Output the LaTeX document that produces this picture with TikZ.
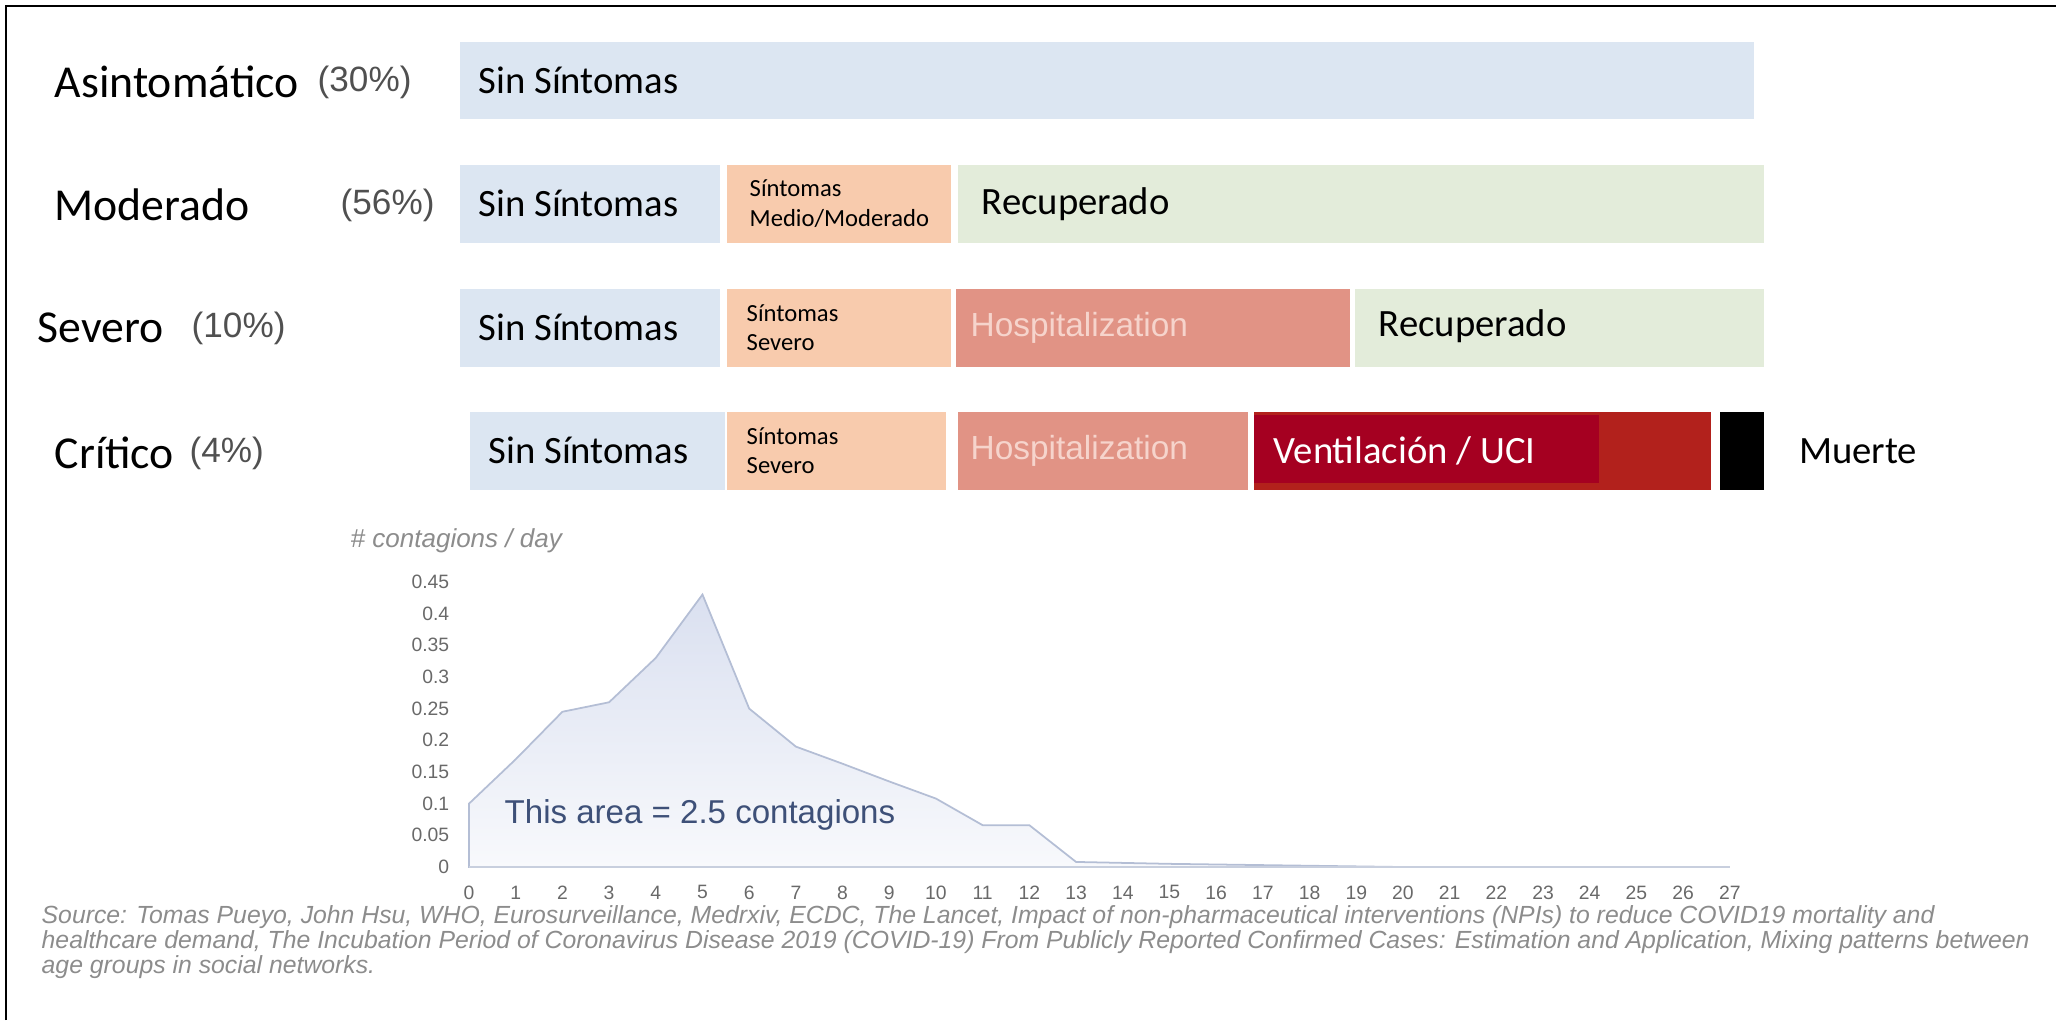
\documentclass[tikz,border=0pt]{standalone}
\usepackage{fontspec}
\setmainfont{Carlito}
\newfontfamily\helv{Liberation Sans}
\usepackage{tikz}
\usetikzlibrary{positioning}

\definecolor{sinBlue}{RGB}{220,230,242}
\definecolor{symOrange}{RGB}{248,203,173}
\definecolor{recGreen}{RGB}{227,236,218}
\definecolor{hospRed}{RGB}{225,147,133}
\definecolor{hospText}{RGB}{246,212,204}
\definecolor{ventDark}{RGB}{165,0,33}
\definecolor{ventRed}{RGB}{178,33,28}
\definecolor{pctGrey}{RGB}{80,80,80}
\definecolor{tickGrey}{RGB}{105,105,105}
\definecolor{srcGrey}{RGB}{140,140,140}
\definecolor{areaTop}{RGB}{218,224,240}
\definecolor{areaBot}{RGB}{248,249,252}
\definecolor{areaLine}{RGB}{180,190,213}
\definecolor{axisLine}{RGB}{200,207,222}
\definecolor{areaText}{RGB}{62,80,120}

\begin{document}
\begin{tikzpicture}[x=0.01cm,y=-0.01cm,
    bar/.style={rectangle,inner sep=0pt,anchor=north west,minimum height=0.78cm},
    txt/.style={inner sep=0pt,font=\fontsize{11}{13}\selectfont},
    small/.style={inner sep=0pt,align=left,font=\fontsize{7}{8.4}\selectfont},
    rowlbl/.style={inner sep=0pt,anchor=west,font=\fontsize{13}{15}\selectfont},
    pct/.style={inner sep=0pt,anchor=west,text=pctGrey,font=\helv\fontsize{10}{12}\selectfont},
    hosp/.style={inner sep=0pt,text=hospText,font=\helv\fontsize{9.5}{11}\selectfont},
    tick/.style={inner sep=0pt,text=tickGrey,font=\helv\fontsize{5.5}{6.6}\selectfont},
    src/.style={inner sep=0pt,anchor=base west,text=srcGrey,font=\helv\itshape\fontsize{7.05}{8}\selectfont}]

  \useasboundingbox (0,0) rectangle (2056,1020);
  \draw [line width=0.6pt] (6,1020) -- (6,6) -- (2056,6);

  % row labels
  \node [rowlbl] (Asin_lbl) at (54,82)  {Asintomático};
  \node [pct]    (Asin_pct) at (317,82) {(30\%)};
  \node [rowlbl] (Mod_lbl)  at (54,205) {Moderado};
  \node [pct]    (Mod_pct)  at (340,205) {(56\%)};
  \node [rowlbl] (Sev_lbl)  at (37,328) {Severo};
  \node [pct]    (Sev_pct)  at (191,328) {(10\%)};
  \node [rowlbl] (Crit_lbl) at (54,453) {Crítico};
  \node [pct]    (Crit_pct) at (189,453) {(4\%)};

  % asintomatico
  \node [bar,fill=sinBlue,minimum width=12.94cm,minimum height=0.77cm] (Asin_sin) at (459,41) {};
  \node [txt,right=0.19cm of Asin_sin.west] {Sin Síntomas};

  % moderado
  \node [bar,fill=sinBlue,minimum width=2.60cm]   (Mod_sin) at (459,164) {};
  \node [bar,fill=symOrange,minimum width=2.24cm] (Mod_sym) at (726,164) {};
  \node [bar,fill=recGreen,minimum width=8.06cm]  (Mod_rec) at (957,164) {};
  \node [txt,right=0.19cm of Mod_sin.west] {Sin Síntomas};
  \node [small,right=0.23cm of Mod_sym.west] {Síntomas\\Medio/Moderado};
  \node [txt,right=0.24cm of Mod_rec.west] {Recuperado};

  % severo
  \node [bar,fill=sinBlue,minimum width=2.60cm]   (Sev_sin)  at (459,288) {};
  \node [bar,fill=symOrange,minimum width=2.24cm] (Sev_sym)  at (726,288) {};
  \node [bar,fill=hospRed,minimum width=3.94cm]   (Sev_hosp) at (955,288) {};
  \node [bar,fill=recGreen,minimum width=4.09cm]  (Sev_rec)  at (1354,288) {};
  \node [txt,right=0.19cm of Sev_sin.west] {Sin Síntomas};
  \node [small,right=0.20cm of Sev_sym.west] {Síntomas\\Severo};
  \node [hosp,right=0.15cm of Sev_hosp.west] {Hospitalization};
  \node [txt,right=0.24cm of Sev_rec.west,yshift=0.02cm] {Recuperado};

  % critico
  \node [bar,fill=sinBlue,minimum width=2.55cm]   (Crit_sin)   at (469,411) {};
  \node [bar,fill=symOrange,minimum width=2.19cm] (Crit_sym)   at (726,411) {};
  \node [bar,fill=hospRed,minimum width=2.90cm]   (Crit_hosp)  at (957,411) {};
  \node [bar,fill=ventRed,minimum width=4.57cm]   (Crit_vent)  at (1253,411) {};
  \node [bar,fill=ventDark,minimum width=3.45cm,minimum height=0.68cm] (Crit_uci) at (1253,414) {};
  \node [bar,fill=black,minimum width=0.44cm]     (Crit_death) at (1719,411) {};
  \node [txt,right=0.19cm of Crit_sin.west] {Sin Síntomas};
  \node [small,right=0.20cm of Crit_sym.west] {Síntomas\\Severo};
  \node [hosp,right=0.13cm of Crit_hosp.west] {Hospitalization};
  \node [txt,text=white,right=0.20cm of Crit_vent.west] {Ventilación / UCI};
  \node [txt,right=0.34cm of Crit_death.east] {Muerte};

  % contagion curve
  \node [inner sep=0pt,anchor=west,text=srcGrey,font=\helv\itshape\fontsize{7.4}{8.5}\selectfont] (Chart_ylbl) at (350,541) {\# contagions / day};
  \begin{scope}[shift={(469,867)},x=0.4667cm,y=6.333cm]
    \path [draw=areaLine,line width=0.5pt,top color=areaTop,bottom color=areaBot]
      (0,0) -- (0,0.1) -- (1,0.17) -- (2,0.245) -- (3,0.26) -- (4,0.33) -- (5,0.43)
      -- (6,0.25) -- (7,0.19) -- (8,0.163) -- (9,0.135) -- (10,0.108) -- (11,0.066)
      -- (12,0.066) -- (13,0.008) -- (15,0.005) -- (17,0.003) -- (19,0.001) -- (20,0) -- cycle;
    \draw [axisLine,line width=0.5pt] (0,0) -- (27,0);
    \foreach \d in {0,...,27}
      \node [tick] (Chart_x\d) at (\d,-0.04) {\d};
    \foreach \v [count=\i] in {0,0.05,0.1,0.15,0.2,0.25,0.3,0.35,0.4,0.45}
      \node [tick,anchor=east] (Chart_y\i) at (-0.41,\v) {\v};
  \end{scope}
  \node [inner sep=0pt,anchor=west,text=areaText,font=\helv\fontsize{9.4}{11}\selectfont] (Chart_area) at (504,815) {This area = 2.5 contagions};

  % sources
  \node [src] (Src_1) at (41,923) {Source: Tomas Pueyo, John Hsu, WHO, Eurosurveillance, Medrxiv, ECDC, The Lancet, Impact of non-pharmaceutical interventions (NPIs) to reduce COVID19 mortality and};
  \node [src] (Src_2) at (41,948) {healthcare demand, The Incubation Period of Coronavirus Disease 2019 (COVID-19) From Publicly Reported Confirmed Cases: Estimation and Application, Mixing patterns between};
  \node [src] (Src_3) at (41,973) {age groups in social networks.};

\end{tikzpicture}
\end{document}
